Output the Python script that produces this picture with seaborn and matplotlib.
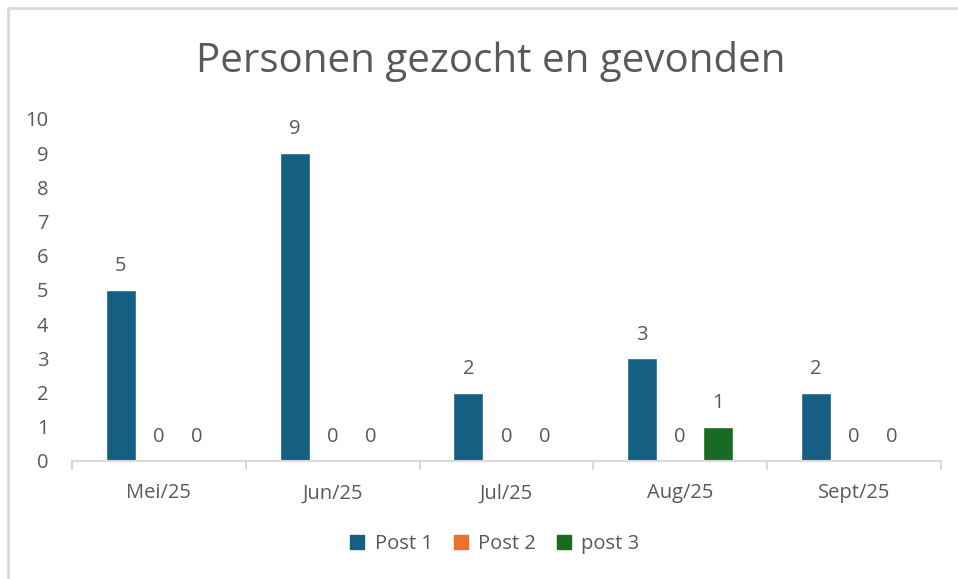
import matplotlib
matplotlib.use("Agg")
import matplotlib.pyplot as plt
from matplotlib.lines import Line2D
import pandas as pd
import seaborn as sns

# ── Data ──────────────────────────────────────────────────────────────
months = ["Mei/25", "Jun/25", "Jul/25", "Aug/25", "Sept/25"]
series = ["Post 1", "Post 2", "post 3"]
post_1 = [5, 9, 2, 3, 2]
post_2 = [0, 0, 0, 0, 0]
post_3 = [0, 0, 0, 1, 0]
y_ticks = list(range(0, 11))

# ── Theme ─────────────────────────────────────────────────────────────
TEXT = "#595959"
AXIS = "#d9d9d9"
COLORS = ["#156082", "#E97132", "#196B24"]

sns.set_theme(style="white")
plt.rcParams["font.family"] = ["Open Sans", "DejaVu Sans"]

df = pd.DataFrame({
    "month": months * 3,
    "series": [s for s in series for _ in months],
    "value": post_1 + post_2 + post_3,
})

fig = plt.figure(figsize=(9.58, 5.79), dpi=100)
ax = fig.add_axes([0.0752, 0.2038, 0.9068, 0.5907])

sns.barplot(
    data=df, x="month", y="value", hue="series", order=months, hue_order=series,
    palette=COLORS, width=0.655, gap=0.21, saturation=1, ax=ax, legend=False,
)

for cont in ax.containers:
    ax.bar_label(cont, padding=10, fontsize=14.5, color=TEXT)

ax.set_ylim(0, 10)
ax.set_yticks(y_ticks)
ax.set_xlim(-0.5, len(months) - 0.5)
ax.set_xlabel("")
ax.set_ylabel("")
ax.tick_params(axis="y", length=0, pad=17, labelsize=14.5, labelcolor=TEXT)
ax.tick_params(axis="x", length=0, pad=16, labelsize=14.5, labelcolor=TEXT)

for side in ["top", "right", "left"]:
    ax.spines[side].set_visible(False)
ax.spines["bottom"].set_color(AXIS)
ax.spines["bottom"].set_linewidth(1.5)

# category separator ticks on x axis
for b in [i - 0.5 for i in range(len(months) + 1)]:
    ax.plot([b, b], [0, -0.22], color=AXIS, lw=1.5, clip_on=False)

fig.suptitle("Personen gezocht en gevonden", x=0.512, y=0.93,
             fontsize=29, color=TEXT)

handles = [Line2D([], [], marker="s", linestyle="", markersize=10,
                  markerfacecolor=c, markeredgecolor=c) for c in COLORS]
fig.legend(handles, series, loc="center", bbox_to_anchor=(0.516, 0.06),
           ncol=3, frameon=False, fontsize=14.5, labelcolor=TEXT,
           handlelength=0.8, handletextpad=0.45, columnspacing=1.0)

# chart frame (top and left edge only)
fig.add_artist(Line2D([8 / 958, 1], [1 - 8 / 579] * 2, color=AXIS, lw=2,
                      transform=fig.transFigure))
fig.add_artist(Line2D([8 / 958] * 2, [0, 1 - 8 / 579], color=AXIS, lw=2,
                      transform=fig.transFigure))

fig.savefig("out.png", dpi=100, facecolor="white")
